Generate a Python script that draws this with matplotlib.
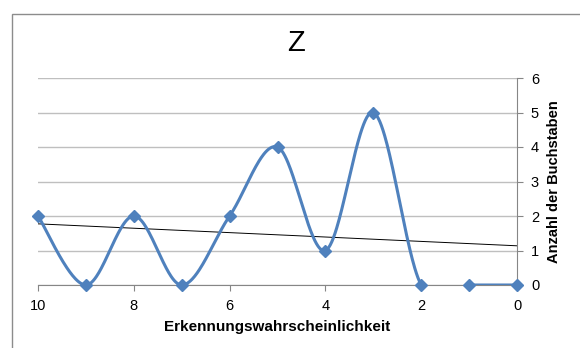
import numpy as np
import matplotlib.pyplot as plt
from matplotlib.patches import Rectangle

plt.rcParams['font.family'] = ['Liberation Sans', 'DejaVu Sans']

# Erkennungswahrscheinlichkeit (x) und Anzahl der Buchstaben (y)
x_vals = [10, 9, 8, 7, 6, 5, 4, 3, 2, 1, 0]
y_vals = [2, 0, 2, 0, 2, 4, 1, 5, 0, 0, 0]

BLUE = '#4F81BD'
GRID = '#BFBFBF'
AXIS = '#868686'


def smooth_curve(xs, ys, n=60):
    # Excel-like smoothing: Catmull-Rom via cubic Bezier segments
    pts = np.column_stack([xs, ys]).astype(float)
    out = []
    for i in range(len(pts) - 1):
        p0 = pts[i - 1] if i > 0 else pts[i]
        p1 = pts[i]
        p2 = pts[i + 1]
        p3 = pts[i + 2] if i + 2 < len(pts) else pts[i + 1]
        c1 = p1 + (p2 - p0) / 6
        c2 = p2 - (p3 - p1) / 6
        t = np.linspace(0, 1, n)[:, None]
        seg = ((1 - t) ** 3) * p1 + 3 * ((1 - t) ** 2) * t * c1 + 3 * (1 - t) * t ** 2 * c2 + t ** 3 * p2
        out.append(seg)
    return np.vstack(out)


fig = plt.figure(figsize=(5.8, 3.48), dpi=100)
ax = fig.add_axes([38 / 580, 63 / 348, 479 / 580, 207 / 348])

# chart border
fig.patches.append(Rectangle((12 / 580, -0.1), 1.2, (348 - 13.5) / 348 + 0.1,
                             transform=fig.transFigure, fill=False,
                             edgecolor='#8C8C8C', linewidth=1.0))

curve = smooth_curve(x_vals, y_vals)
cy = curve[:, 1].copy()
cy[cy < -1e-9] = np.nan  # parts below the axis are not shown
ax.plot(curve[:, 0], cy, color=BLUE, linewidth=2.2, solid_capstyle='round', zorder=3)
ax.plot(x_vals, y_vals, linestyle='none', marker='D', markersize=6,
        color=BLUE, zorder=4, clip_on=False)

# linear trend line
k, d = np.polyfit(x_vals, y_vals, 1)
tx = np.array([10, 0])
ax.plot(tx, k * tx + d, color='black', linewidth=0.7, zorder=2)

ax.set_xlim(10, 0)
ax.set_ylim(0, 6)
ax.set_xticks([10, 8, 6, 4, 2, 0])
ax.set_yticks(range(7))

ax.yaxis.tick_right()
ax.yaxis.set_label_position('right')
ax.grid(axis='y', color=GRID, linewidth=1.0)
ax.set_axisbelow(True)

for s in ['left', 'top']:
    ax.spines[s].set_visible(False)
for s in ['right', 'bottom']:
    ax.spines[s].set_color(AXIS)
    ax.spines[s].set_linewidth(0.8)

ax.tick_params(axis='both', colors=AXIS, length=4, width=0.8, labelsize=10.5,
               labelcolor='black')
ax.tick_params(axis='x', pad=6)
ax.tick_params(axis='y', pad=6)

ax.set_xlabel('Erkennungswahrscheinlichkeit', fontsize=11, fontweight='bold', labelpad=5)
ax.set_ylabel('Anzahl der Buchstaben', fontsize=10.5, fontweight='bold', labelpad=6)
fig.text(296 / 580, 1 - 43 / 348, 'Z', fontsize=21, ha='center', va='center')

fig.savefig('out.png', dpi=100)
